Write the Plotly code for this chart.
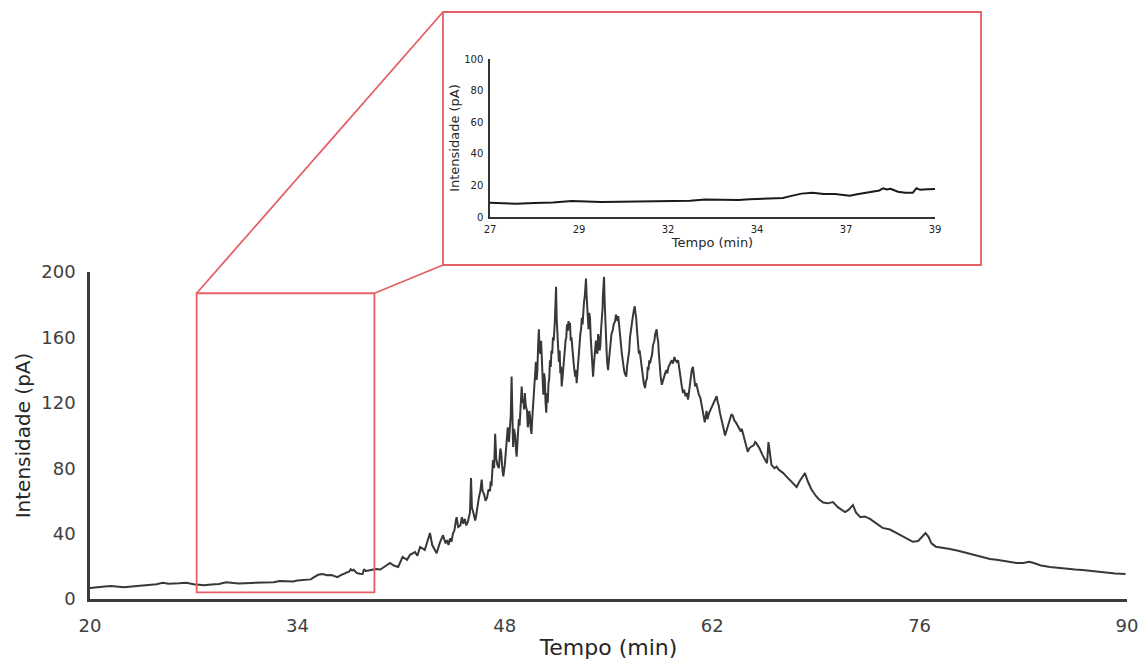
import numpy as np
import plotly.graph_objects as go

# ---------------- data ----------------
# (time in min, intensity in pA), split into segments of the chromatogram
baseline_segment = [
    (20.0, 6.7), (20.5, 7.0), (21.0, 7.6), (21.4, 8.0), (22.0, 7.4), (22.3, 7.2), (23.0, 7.8),
    (23.5, 8.2), (24.0, 8.6), (24.5, 9.0), (24.9, 9.9), (25.3, 9.4), (26.0, 9.6), (26.5, 10.0),
    (27.0, 9.0), (27.3, 8.6), (27.7, 8.4), (28.2, 8.8), (28.7, 9.2), (29.2, 10.2), (29.5, 9.8),
    (30.0, 9.5), (30.5, 9.7), (31.0, 9.9), (31.5, 10.2), (32.0, 10.0), (32.4, 10.3), (32.8, 11.0),
    (33.2, 10.9), (33.7, 10.7), (34.0, 11.3), (34.4, 11.8), (34.9, 12.0), (35.1, 13.2), (35.4, 14.8),
    (35.7, 15.3), (36.0, 14.5), (36.3, 14.6), (36.5, 14.0), (36.7, 13.4), (36.9, 14.4), (37.2, 15.4),
    (37.5, 16.8), (37.6, 18.2), (37.7, 17.4), (37.8, 17.9), (38.0, 16.0), (38.2, 15.4), (38.4, 15.3),
    (38.5, 18.2), (38.6, 17.2), (38.8, 17.5), (39.0, 17.8), (39.3, 18.3), (39.6, 18.0), (39.8, 19.5),
    (40.0, 20.5), (40.25, 22.0), (40.5, 20.5), (40.8, 19.6), (41.1, 25.7), (41.4, 24.0), (41.6, 27.0),
    (41.94, 28.7), (42.1, 26.5), (42.28, 31.8), (42.6, 30.0), (42.95, 40.4), (43.1, 33.0),
    (43.4, 28.0), (43.6, 34.0), (43.83, 39.0),
]
peak_segment = [
    (44.0, 34), (44.1, 36), (44.2, 33), (44.3, 37), (44.4, 35), (44.5, 40), (44.6, 42), (44.7, 48),
    (44.75, 50), (44.85, 44), (45.0, 45), (45.1, 50), (45.2, 46), (45.3, 49), (45.4, 45), (45.5, 47),
    (45.6, 52), (45.65, 53), (45.72, 74), (45.78, 56), (45.9, 52), (46.0, 48), (46.05, 50), (46.15, 58),
    (46.25, 62), (46.35, 66), (46.44, 73), (46.5, 66), (46.6, 64), (46.7, 60), (46.8, 62), (46.9, 67),
    (47.0, 66), (47.05, 72), (47.1, 69), (47.2, 85), (47.28, 80), (47.35, 101), (47.42, 86), (47.5, 82),
    (47.6, 80), (47.7, 92), (47.75, 90), (47.85, 78), (47.9, 75), (48.0, 82), (48.05, 88), (48.12, 96),
    (48.2, 105), (48.28, 96), (48.35, 108), (48.4, 112), (48.46, 136), (48.5, 110), (48.56, 93),
    (48.62, 104), (48.7, 100), (48.75, 92), (48.8, 87), (48.88, 100), (48.95, 110), (49.0, 106),
    (49.05, 118), (49.1, 124), (49.14, 130), (49.2, 120), (49.25, 122), (49.3, 116), (49.35, 126),
    (49.42, 118), (49.5, 115), (49.55, 105), (49.6, 108), (49.65, 115), (49.7, 112), (49.75, 104),
    (49.8, 101), (49.85, 110), (49.9, 118), (49.95, 125), (50.0, 128), (50.05, 138), (50.1, 145),
    (50.15, 134), (50.2, 140), (50.25, 155), (50.3, 165), (50.35, 152), (50.4, 150), (50.45, 158),
    (50.5, 146), (50.55, 132), (50.6, 125), (50.65, 138), (50.7, 135), (50.75, 120), (50.8, 114),
    (50.85, 126), (50.9, 120), (50.95, 132), (51.0, 135), (51.05, 146), (51.1, 142), (51.15, 152),
    (51.2, 150), (51.25, 160), (51.3, 158), (51.38, 170), (51.46, 191), (51.5, 172), (51.55, 160),
    (51.6, 150), (51.65, 145), (51.7, 152), (51.75, 138), (51.8, 142), (51.84, 130), (51.9, 136),
    (51.95, 140), (52.0, 148), (52.05, 152), (52.1, 158), (52.15, 160), (52.2, 168), (52.25, 164),
    (52.3, 170), (52.35, 165), (52.4, 169), (52.45, 158), (52.5, 160), (52.55, 152), (52.6, 150),
    (52.65, 144), (52.7, 140), (52.75, 136), (52.8, 140), (52.85, 132), (52.9, 138), (52.95, 145),
    (53.0, 150), (53.05, 155), (53.1, 162), (53.15, 165), (53.2, 172), (53.25, 168), (53.3, 178),
    (53.35, 182), (53.4, 185), (53.44, 190), (53.48, 196), (53.52, 186), (53.55, 178), (53.6, 170),
    (53.65, 165), (53.7, 175), (53.75, 172), (53.8, 160), (53.85, 150), (53.9, 142), (53.96, 136),
    (54.0, 142), (54.05, 148), (54.1, 155), (54.15, 158), (54.2, 152), (54.25, 150), (54.3, 162),
    (54.35, 160), (54.4, 152), (54.45, 155), (54.5, 165), (54.55, 170), (54.6, 178), (54.62, 185),
    (54.66, 192), (54.7, 197), (54.74, 182), (54.78, 170), (54.83, 160), (54.88, 150), (54.92, 144),
    (54.97, 140), (55.02, 145), (55.05, 148), (55.1, 152), (55.15, 158), (55.2, 162), (55.3, 165),
    (55.35, 168), (55.45, 170), (55.5, 174), (55.56, 172), (55.62, 170), (55.66, 173), (55.7, 168),
    (55.75, 165), (55.8, 160), (55.85, 155), (55.9, 150), (55.95, 145), (56.0, 142), (56.05, 140),
    (56.1, 138), (56.2, 136), (56.25, 142), (56.3, 145), (56.4, 152), (56.45, 160), (56.55, 165),
    (56.6, 170), (56.7, 176), (56.77, 179), (56.82, 175), (56.87, 172), (56.92, 165), (56.95, 160),
    (57.0, 155), (57.05, 150), (57.1, 152), (57.15, 148), (57.2, 145), (57.25, 140), (57.3, 138),
    (57.38, 132), (57.47, 129), (57.52, 133), (57.6, 135), (57.65, 142), (57.7, 140), (57.75, 146),
    (57.8, 144), (57.9, 148), (57.95, 150), (58.0, 155), (58.1, 158), (58.15, 162), (58.25, 165),
    (58.3, 160), (58.35, 158), (58.4, 150), (58.45, 142), (58.52, 136), (58.6, 131), (58.68, 134),
    (58.75, 135), (58.82, 138), (58.9, 140), (58.97, 138), (59.05, 142), (59.15, 144), (59.27, 146),
    (59.35, 144), (59.45, 148), (59.52, 146), (59.6, 145), (59.7, 146), (59.78, 140), (59.85, 135),
    (59.95, 130), (60.03, 126), (60.1, 128), (60.2, 124), (60.28, 126), (60.37, 122), (60.45, 128),
    (60.55, 135), (60.62, 140), (60.7, 142), (60.78, 136), (60.85, 130), (60.92, 132), (61.0, 128),
    (61.1, 125), (61.2, 123), (61.28, 118), (61.35, 115), (61.42, 112), (61.5, 108), (61.56, 112),
    (61.62, 115), (61.68, 110), (61.73, 112), (61.8, 114), (61.9, 116), (62.0, 118), (62.1, 120),
    (62.2, 122), (62.3, 124), (62.38, 120), (62.45, 118), (62.52, 114), (62.6, 110), (62.68, 108),
    (62.75, 105), (62.82, 102), (62.87, 100),
]
tail_segment = [
    (63.0, 104), (63.1, 107), (63.2, 110), (63.3, 113), (63.4, 112), (63.5, 109), (63.6, 108),
    (63.75, 105), (63.9, 103), (64.0, 104), (64.1, 100), (64.25, 95), (64.4, 90), (64.5, 92),
    (64.6, 93), (64.8, 94), (64.9, 96), (65.0, 95), (65.2, 92), (65.4, 88), (65.6, 84), (65.7, 83),
    (65.8, 96), (65.9, 88), (66.0, 82), (66.2, 80), (66.35, 81), (66.5, 79), (66.8, 77), (67.0, 75),
    (67.3, 72), (67.5, 70), (67.7, 68.5), (67.9, 72), (68.1, 75), (68.26, 77), (68.45, 72),
    (68.7, 67), (69.0, 63), (69.2, 61), (69.5, 59), (69.8, 58.5), (70.15, 59.3), (70.5, 56),
    (70.97, 53.2), (71.2, 54.5), (71.5, 57.5), (71.7, 53), (72.0, 50), (72.3, 50.5), (72.65, 49),
    (73.0, 46.5), (73.5, 43.5), (74.0, 42.5), (74.3, 41), (74.7, 39), (75.1, 37), (75.55, 35),
    (75.9, 35.5), (76.2, 38.5), (76.4, 40.4), (76.6, 38), (76.8, 34), (77.1, 32), (77.6, 31.5),
    (78.05, 30.6), (78.6, 29.5), (79.2, 28), (80.0, 26), (80.75, 24.5), (81.2, 24), (81.6, 23.4),
    (82.1, 22.8), (82.55, 22), (83.0, 22), (83.4, 22.8), (83.65, 22.2), (84.2, 20.5), (84.8, 19.6),
    (85.4, 19), (85.9, 18.3), (86.5, 18), (87.0, 17.7), (87.7, 17), (88.4, 16), (89.2, 15.6),
    (89.9, 15.3),
]

main_xticks = [20, 34, 48, 62, 76, 90]
main_yticks = [0, 40, 80, 120, 160, 200]
inset_xtickvals = [27, 29.4, 31.8, 34.2, 36.6, 39]
inset_xticktext = ["27", "29", "32", "34", "37", "39"]
inset_yticks = [0, 20, 40, 60, 80, 100]
zoom_window = [27.2, 39.2]          # time span highlighted in the main chart
zoom_window_y = [4, 187]            # intensity span of the highlight box

# ---------------- layout geometry ----------------
FIG_W, FIG_H = 1142, 666
L, R, T, B = 90, 15, 10, 67
W = FIG_W - L - R
H = FIG_H - T - B


def px(xp):
    return (xp - L) / W


def py(yp):
    return (FIG_H - B - yp) / H


main_ydom = [0, py(272)]
inset_xdom = [px(490), px(935)]
inset_ydom = [py(217), py(59)]

points = baseline_segment + peak_segment + tail_segment
t = np.array([p[0] for p in points], dtype=float)
v = np.array([p[1] for p in points], dtype=float)
mask = (t >= 27) & (t <= 39)

FONT = "DejaVu Sans"
RED = "rgb(228,96,100)"

fig = go.Figure()
fig.add_trace(go.Scatter(x=t, y=v, mode="lines",
                         line=dict(color="#383838", width=2),
                         xaxis="x", yaxis="y", showlegend=False, hoverinfo="skip"))
fig.add_trace(go.Scatter(x=t[mask], y=v[mask], mode="lines",
                         line=dict(color="#1a1a1a", width=2),
                         xaxis="x2", yaxis="y2", showlegend=False, hoverinfo="skip"))

fig.update_layout(
    width=FIG_W, height=FIG_H,
    margin=dict(l=L, r=R, t=T, b=B, autoexpand=False),
    paper_bgcolor="white", plot_bgcolor="white",
    font=dict(family=FONT),
    xaxis=dict(domain=[0, 1], range=[20, 90], tickvals=main_xticks,
               showgrid=False, zeroline=False, showline=True,
               linecolor="#3c3c3c", linewidth=3, ticks="",
               ticklabelstandoff=8,
               tickfont=dict(size=18, color="#404040"),
               title=dict(text="Tempo (min)", font=dict(size=22, color="#262626"), standoff=6),
               anchor="y", automargin=False),
    yaxis=dict(domain=main_ydom, range=[0, 200], tickvals=main_yticks,
               showgrid=False, zeroline=False, showline=True,
               linecolor="#3c3c3c", linewidth=2.5, ticks="",
               ticklabelstandoff=8,
               tickfont=dict(size=18, color="#404040"),
               title=dict(text="Intensidade (pA)", font=dict(size=20, color="#262626"), standoff=6),
               anchor="x", automargin=False),
    xaxis2=dict(domain=inset_xdom, range=[27, 39], tickvals=inset_xtickvals,
                ticktext=inset_xticktext,
                showgrid=False, zeroline=False, showline=True,
                linecolor="#333333", linewidth=1.5, ticks="",
                ticklabelstandoff=2,
                tickfont=dict(size=10, color="#222222"),
                title=dict(text="Tempo (min)", font=dict(size=13, color="#262626"), standoff=2),
                anchor="y2", automargin=False),
    yaxis2=dict(domain=inset_ydom, range=[0, 100], tickvals=inset_yticks,
                showgrid=False, zeroline=False, showline=True,
                linecolor="#333333", linewidth=1.5, ticks="",
                ticklabelstandoff=3,
                tickfont=dict(size=10, color="#222222"),
                title=dict(text="Intensidade (pA)", font=dict(size=13, color="#262626"), standoff=2),
                anchor="x2", automargin=False),
)

# highlight box on the main chart (data coordinates)
fig.add_shape(type="rect", xref="x", yref="y",
              x0=zoom_window[0], x1=zoom_window[1],
              y0=zoom_window_y[0], y1=zoom_window_y[1],
              line=dict(color=RED, width=1.8), layer="above")

# frame around the inset (paper coordinates)
box_x0, box_x1 = px(443), px(981)
box_y0, box_y1 = py(265), py(12)
fig.add_shape(type="rect", xref="paper", yref="paper",
              x0=box_x0, x1=box_x1, y0=box_y0, y1=box_y1,
              line=dict(color=RED, width=1.8), layer="above")


# connectors: from the highlight box corners to the inset frame
def data_to_paper(tx, vy):
    return (tx - 20) / 70, main_ydom[0] + (main_ydom[1] - main_ydom[0]) * vy / 200


hx0, hy1 = data_to_paper(zoom_window[0], zoom_window_y[1])
hx1, _ = data_to_paper(zoom_window[1], zoom_window_y[1])
fig.add_shape(type="line", xref="paper", yref="paper",
              x0=hx0, y0=hy1, x1=box_x0, y1=box_y1,
              line=dict(color=RED, width=1.8))
fig.add_shape(type="line", xref="paper", yref="paper",
              x0=hx1, y0=hy1, x1=box_x0, y1=box_y0,
              line=dict(color=RED, width=1.8))

fig.write_html("out.html")
